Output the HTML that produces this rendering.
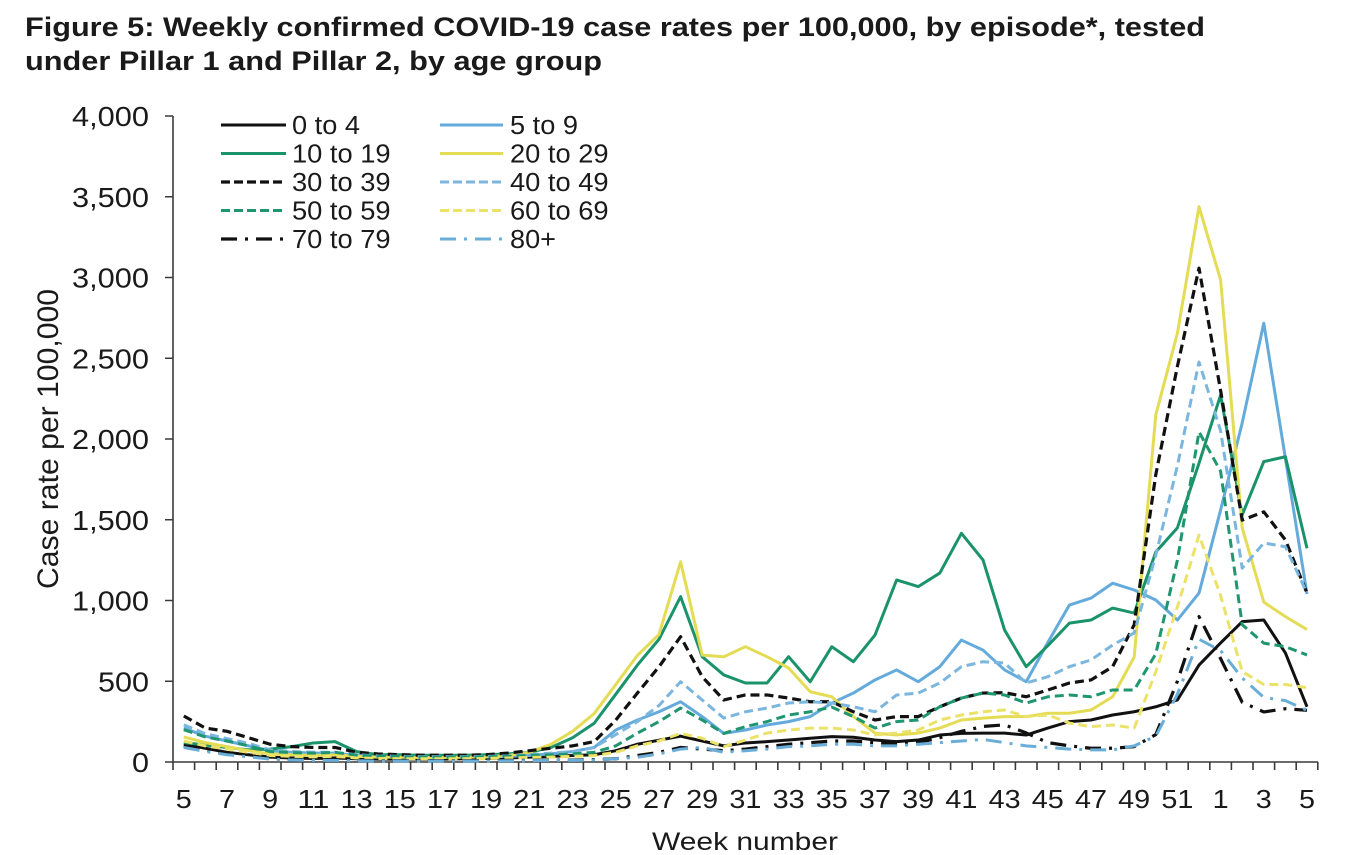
<!DOCTYPE html>
<html>
<head>
<meta charset="utf-8">
<style>
  html, body { margin: 0; padding: 0; background: #fff; }
  body { width: 1367px; height: 855px; overflow: hidden; }
  svg { display: block; }
  text { font-family: "Liberation Sans", Arial, sans-serif; fill: #1a1a1a; }
</style>
</head>
<body>
<svg width="1367" height="855" viewBox="0 0 1367 855" xmlns="http://www.w3.org/2000/svg">
  <rect x="0" y="0" width="1367" height="855" fill="#ffffff"/>

  <!-- Title -->
  <text x="25" y="36" font-size="27" font-weight="bold" textLength="1180" lengthAdjust="spacingAndGlyphs" fill="#111">Figure 5: Weekly confirmed COVID-19 case rates per 100,000, by episode*, tested</text>
  <text x="25" y="70" font-size="27" font-weight="bold" textLength="577" lengthAdjust="spacingAndGlyphs" fill="#111">under Pillar 1 and Pillar 2, by age group</text>

  <!-- Y axis label -->
  <text transform="translate(58,439) scale(1.05,1) rotate(-90)" text-anchor="middle" font-size="28" textLength="300" lengthAdjust="spacingAndGlyphs">Case rate per 100,000</text>

  <!-- Y tick labels -->
  <g font-size="28" text-anchor="end">
    <text x="149" y="126" textLength="77" lengthAdjust="spacingAndGlyphs">4,000</text>
    <text x="149" y="206.75" textLength="77" lengthAdjust="spacingAndGlyphs">3,500</text>
    <text x="149" y="287.5" textLength="77" lengthAdjust="spacingAndGlyphs">3,000</text>
    <text x="149" y="368.25" textLength="77" lengthAdjust="spacingAndGlyphs">2,500</text>
    <text x="149" y="449" textLength="77" lengthAdjust="spacingAndGlyphs">2,000</text>
    <text x="149" y="529.75" textLength="77" lengthAdjust="spacingAndGlyphs">1,500</text>
    <text x="149" y="610.5" textLength="77" lengthAdjust="spacingAndGlyphs">1,000</text>
    <text x="149" y="691.25" textLength="51" lengthAdjust="spacingAndGlyphs">500</text>
    <text x="149" y="772" textLength="17" lengthAdjust="spacingAndGlyphs">0</text>
  </g>

  <!-- X tick labels -->
  <g font-size="26" text-anchor="middle">
    <text x="183.8" y="808" textLength="16" lengthAdjust="spacingAndGlyphs">5</text>
    <text x="227" y="808" textLength="16" lengthAdjust="spacingAndGlyphs">7</text>
    <text x="270.2" y="808" textLength="16" lengthAdjust="spacingAndGlyphs">9</text>
    <text x="313.4" y="808" textLength="32" lengthAdjust="spacingAndGlyphs">11</text>
    <text x="356.6" y="808" textLength="32" lengthAdjust="spacingAndGlyphs">13</text>
    <text x="399.8" y="808" textLength="32" lengthAdjust="spacingAndGlyphs">15</text>
    <text x="443" y="808" textLength="32" lengthAdjust="spacingAndGlyphs">17</text>
    <text x="486.2" y="808" textLength="32" lengthAdjust="spacingAndGlyphs">19</text>
    <text x="529.4" y="808" textLength="32" lengthAdjust="spacingAndGlyphs">21</text>
    <text x="572.6" y="808" textLength="32" lengthAdjust="spacingAndGlyphs">23</text>
    <text x="615.8" y="808" textLength="32" lengthAdjust="spacingAndGlyphs">25</text>
    <text x="659" y="808" textLength="32" lengthAdjust="spacingAndGlyphs">27</text>
    <text x="702.2" y="808" textLength="32" lengthAdjust="spacingAndGlyphs">29</text>
    <text x="745.4" y="808" textLength="32" lengthAdjust="spacingAndGlyphs">31</text>
    <text x="788.6" y="808" textLength="32" lengthAdjust="spacingAndGlyphs">33</text>
    <text x="831.8" y="808" textLength="32" lengthAdjust="spacingAndGlyphs">35</text>
    <text x="875" y="808" textLength="32" lengthAdjust="spacingAndGlyphs">37</text>
    <text x="918.2" y="808" textLength="32" lengthAdjust="spacingAndGlyphs">39</text>
    <text x="961.4" y="808" textLength="32" lengthAdjust="spacingAndGlyphs">41</text>
    <text x="1004.6" y="808" textLength="32" lengthAdjust="spacingAndGlyphs">43</text>
    <text x="1047.8" y="808" textLength="32" lengthAdjust="spacingAndGlyphs">45</text>
    <text x="1091" y="808" textLength="32" lengthAdjust="spacingAndGlyphs">47</text>
    <text x="1134.2" y="808" textLength="32" lengthAdjust="spacingAndGlyphs">49</text>
    <text x="1177.4" y="808" textLength="32" lengthAdjust="spacingAndGlyphs">51</text>
    <text x="1220.6" y="808" textLength="16" lengthAdjust="spacingAndGlyphs">1</text>
    <text x="1263.8" y="808" textLength="16" lengthAdjust="spacingAndGlyphs">3</text>
    <text x="1307" y="808" textLength="16" lengthAdjust="spacingAndGlyphs">5</text>
  </g>

  <!-- X axis title -->
  <text x="745" y="850" font-size="25" text-anchor="middle" textLength="186" lengthAdjust="spacingAndGlyphs">Week number</text>

  <!-- Axes -->
  <g stroke="#3a3a3a" stroke-width="1.6" fill="none">
    <line x1="173" y1="116" x2="173" y2="762"/>
    <line x1="173" y1="762" x2="1318" y2="762"/>
    <path d="M165,116H173 M165,196.75H173 M165,277.5H173 M165,358.25H173 M165,439H173 M165,519.75H173 M165,600.5H173 M165,681.25H173 M165,762H173"/>
    <path d="M173,762V770 M194.6,762V770 M216.2,762V770 M237.8,762V770 M259.4,762V770 M281,762V770 M302.6,762V770 M324.2,762V770 M345.8,762V770 M367.4,762V770 M389,762V770 M410.6,762V770 M432.2,762V770 M453.8,762V770 M475.4,762V770 M497,762V770 M518.6,762V770 M540.2,762V770 M561.8,762V770 M583.4,762V770 M605,762V770 M626.6,762V770 M648.2,762V770 M669.8,762V770 M691.4,762V770 M713,762V770 M734.6,762V770 M756.2,762V770 M777.8,762V770 M799.4,762V770 M821,762V770 M842.6,762V770 M864.2,762V770 M885.8,762V770 M907.4,762V770 M929,762V770 M950.6,762V770 M972.2,762V770 M993.8,762V770 M1015.4,762V770 M1037,762V770 M1058.6,762V770 M1080.2,762V770 M1101.8,762V770 M1123.4,762V770 M1145,762V770 M1166.6,762V770 M1188.2,762V770 M1209.8,762V770 M1231.4,762V770 M1253,762V770 M1274.6,762V770 M1296.2,762V770 M1317.8,762V770"/>
  </g>

  <!-- Series -->
  <g transform="translate(183.8 762) scale(21.6 -0.1615)" fill="none" stroke-linejoin="round" stroke-linecap="butt">
    <!-- 0 to 4 -->
    <polyline vector-effect="non-scaling-stroke" stroke="#111" stroke-width="3"
      points="0,110 1,85 2,60 3,45 4,30 5,25 6,22 7,25 8,20 9,18 10,18 11,18 12,18 13,20 14,22 15,25 16,30 17,35 18,40 19,45 20,70 21,110 22,135 23,160 24,130 25,100 26,118 27,126 28,136 29,147 30,157 31,153 32,136 33,126 34,136 35,167 36,177 37,179 38,179 39,167 40,210 41,250 42,260 43,291 44,311 45,342 46,384 47,600 48,737 49,869 50,879 51,675 52,342"/>
    <!-- 5 to 9 -->
    <polyline vector-effect="non-scaling-stroke" stroke="#64abdc" stroke-width="3"
      points="0,210 1,160 2,130 3,100 4,70 5,60 6,55 7,55 8,40 9,35 10,30 11,30 12,30 13,30 14,32 15,35 16,40 17,50 18,65 19,90 20,198 21,260 22,311 23,373 24,281 25,177 26,198 27,229 28,250 29,281 30,365 31,427 32,508 33,570 34,497 35,590 36,755 37,693 38,570 39,497 40,740 41,972 42,1015 43,1107 44,1065 45,1003 46,879 47,1046 48,1560 49,2100 50,2717 51,1880 52,1040"/>
    <!-- 10 to 19 -->
    <polyline vector-effect="non-scaling-stroke" stroke="#1a936b" stroke-width="3"
      points="0,120 1,105 2,90 3,75 4,80 5,95 6,118 7,126 8,64 9,45 10,45 11,42 12,42 13,42 14,45 15,50 16,60 17,90 18,150 19,240 20,420 21,600 22,760 23,1024 24,652 25,539 26,489 27,489 28,652 29,497 30,714 31,621 32,786 33,1127 34,1086 35,1170 36,1416 37,1251 38,817 39,590 40,720 41,860 42,879 43,953 44,922 45,1300 46,1450 47,1850 48,2272 49,1530 50,1860 51,1890 52,1323"/>
    <!-- 20 to 29 -->
    <polyline vector-effect="non-scaling-stroke" stroke="#e5dc55" stroke-width="3"
      points="0,155 1,120 2,95 3,70 4,50 5,45 6,40 7,45 8,35 9,30 10,30 11,28 12,28 13,30 14,32 15,40 16,60 17,110 18,190 19,300 20,480 21,660 22,790 23,1240 24,662 25,652 26,714 27,652 28,582 29,435 30,404 31,281 32,179 33,167 34,179 35,210 36,260 37,272 38,281 39,281 40,302 41,302 42,322 43,404 44,650 45,2150 46,2655 47,3439 48,2985 49,1450 50,990 51,900 52,820"/>
    <!-- 30 to 39 -->
    <polyline vector-effect="non-scaling-stroke" stroke="#111" stroke-width="3.2" stroke-dasharray="9 5"
      points="0,285 1,210 2,190 3,150 4,110 5,95 6,90 7,90 8,60 9,50 10,45 11,42 12,42 13,42 14,45 15,55 16,70 17,85 18,100 19,126 20,260 21,427 22,590 23,776 24,528 25,384 26,415 27,415 28,396 29,373 30,373 31,311 32,260 33,281 34,281 35,342 36,396 37,427 38,429 39,404 40,446 41,489 42,508 43,590 44,850 45,1780 46,2450 47,3058 48,2300 49,1498 50,1549 51,1375 52,1046"/>
    <!-- 40 to 49 -->
    <polyline vector-effect="non-scaling-stroke" stroke="#7bb6de" stroke-width="3" stroke-dasharray="9 5"
      points="0,230 1,175 2,145 3,115 4,75 5,65 6,60 7,60 8,45 9,38 10,35 11,33 12,33 13,33 14,35 15,38 16,45 17,55 18,65 19,90 20,170 21,250 22,350 23,497 24,384 25,272 26,311 27,334 28,365 29,373 30,365 31,342 32,311 33,415 34,427 35,489 36,590 37,621 38,613 39,489 40,528 41,590 42,632 43,724 44,799 45,1280 46,1834 47,2477 48,2050 49,1200 50,1356 51,1333 52,1046"/>
    <!-- 50 to 59 -->
    <polyline vector-effect="non-scaling-stroke" stroke="#1f9670" stroke-width="3" stroke-dasharray="9 5"
      points="0,200 1,155 2,130 3,100 4,65 5,58 6,55 7,60 8,42 9,36 10,33 11,30 12,30 13,30 14,32 15,35 16,40 17,45 18,50 19,60 20,100 21,179 22,250 23,334 24,260 25,177 26,219 27,250 28,291 29,311 30,340 31,281 32,210 33,250 34,260 35,342 36,396 37,427 38,415 39,365 40,404 41,415 42,404 43,446 44,446 45,670 46,1250 47,2044 48,1800 49,850 50,736 51,714 52,663"/>
    <!-- 60 to 69 -->
    <polyline vector-effect="non-scaling-stroke" stroke="#ebe26a" stroke-width="3" stroke-dasharray="9 5"
      points="0,130 1,100 2,80 3,60 4,40 5,35 6,32 7,35 8,25 9,22 10,20 11,20 12,20 13,20 14,22 15,25 16,28 17,30 18,35 19,40 20,60 21,100 22,130 23,177 24,147 25,95 26,136 27,179 28,198 29,210 30,210 31,198 32,167 33,179 34,198 35,260 36,291 37,311 38,322 39,281 40,291 41,241 42,219 43,229 44,210 45,560 46,960 47,1405 48,1030 49,560 50,480 51,480 52,460"/>
    <!-- 70 to 79 -->
    <polyline vector-effect="non-scaling-stroke" stroke="#111" stroke-width="3.2" stroke-dasharray="16 8 3 8"
      points="0,100 1,75 2,55 3,40 4,22 5,15 6,12 7,12 8,10 9,8 10,8 11,8 12,8 13,8 14,8 15,10 16,10 17,12 18,12 19,15 20,20 21,40 22,60 23,90 24,80 25,70 26,80 27,95 28,110 29,120 30,130 31,130 32,120 33,110 34,120 35,150 36,190 37,220 38,230 39,180 40,120 41,100 42,85 43,85 44,95 45,170 46,500 47,900 48,640 49,370 50,310 51,330 52,320"/>
    <!-- 80+ -->
    <polyline vector-effect="non-scaling-stroke" stroke="#6aaed8" stroke-width="3" stroke-dasharray="16 8 3 8"
      points="0,90 1,65 2,45 3,32 4,18 5,12 6,10 7,10 8,8 9,6 10,6 11,6 12,6 13,6 14,6 15,8 16,8 17,10 18,10 19,12 20,20 21,30 22,50 23,80 24,90 25,60 26,70 27,80 28,95 29,100 30,110 31,110 32,100 33,100 34,110 35,120 36,130 37,140 38,120 39,100 40,90 41,80 42,75 43,75 44,100 45,160 46,420 47,760 48,690 49,520 50,400 51,380 52,320"/>
  </g>

  <!-- Legend -->
  <g fill="none">
    <line x1="221" y1="125" x2="286" y2="125" stroke="#111" stroke-width="3"/>
    <line x1="440" y1="125" x2="503" y2="125" stroke="#64abdc" stroke-width="3"/>
    <line x1="221" y1="153.5" x2="286" y2="153.5" stroke="#1a936b" stroke-width="3"/>
    <line x1="440" y1="153.5" x2="503" y2="153.5" stroke="#e5dc55" stroke-width="3"/>
    <line x1="221" y1="182" x2="286" y2="182" stroke="#111" stroke-width="3.2" stroke-dasharray="9 4"/>
    <line x1="440" y1="182" x2="503" y2="182" stroke="#7bb6de" stroke-width="3" stroke-dasharray="9 4"/>
    <line x1="221" y1="210.5" x2="286" y2="210.5" stroke="#1f9670" stroke-width="3" stroke-dasharray="9 4"/>
    <line x1="440" y1="210.5" x2="503" y2="210.5" stroke="#ebe26a" stroke-width="3" stroke-dasharray="9 4"/>
    <line x1="221" y1="239" x2="286" y2="239" stroke="#111" stroke-width="3.2" stroke-dasharray="16 8 3 8"/>
    <line x1="440" y1="239" x2="503" y2="239" stroke="#6aaed8" stroke-width="3" stroke-dasharray="16 8 3 8"/>
  </g>
  <g font-size="25.5">
    <text x="292" y="134" textLength="68" lengthAdjust="spacingAndGlyphs">0 to 4</text>
    <text x="510" y="134" textLength="68" lengthAdjust="spacingAndGlyphs">5 to 9</text>
    <text x="292" y="162.5" textLength="98.6" lengthAdjust="spacingAndGlyphs">10 to 19</text>
    <text x="510" y="162.5" textLength="98.6" lengthAdjust="spacingAndGlyphs">20 to 29</text>
    <text x="292" y="191" textLength="98.6" lengthAdjust="spacingAndGlyphs">30 to 39</text>
    <text x="510" y="191" textLength="98.6" lengthAdjust="spacingAndGlyphs">40 to 49</text>
    <text x="292" y="219.5" textLength="98.6" lengthAdjust="spacingAndGlyphs">50 to 59</text>
    <text x="510" y="219.5" textLength="98.6" lengthAdjust="spacingAndGlyphs">60 to 69</text>
    <text x="292" y="248" textLength="98.6" lengthAdjust="spacingAndGlyphs">70 to 79</text>
    <text x="510" y="248" textLength="46" lengthAdjust="spacingAndGlyphs">80+</text>
  </g>
</svg>
</body>
</html>
